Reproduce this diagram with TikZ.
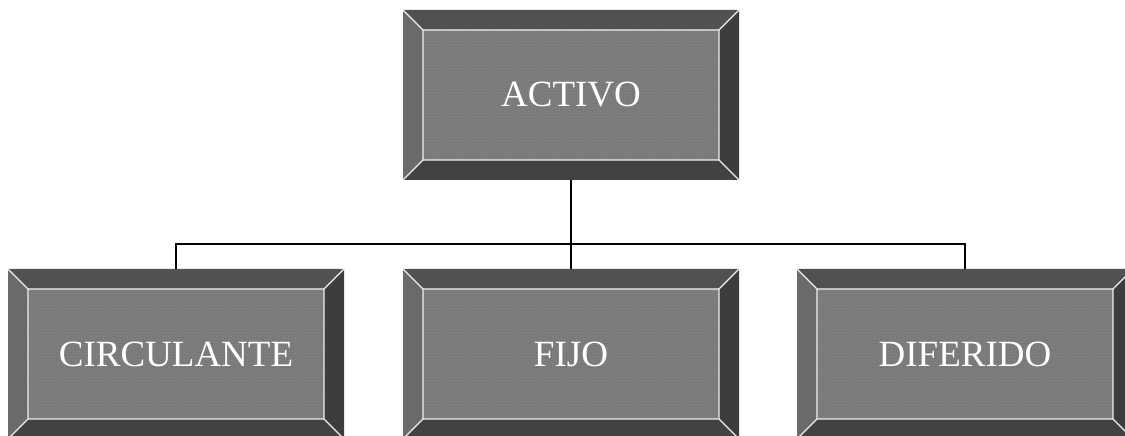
\documentclass[tikz,border=0pt]{standalone}
\usepackage{fontspec}
\setmainfont{Liberation Serif}
\usetikzlibrary{calc,patterns}
\definecolor{bevTop}{HTML}{515151}
\definecolor{bevLeft}{HTML}{6A6A6A}
\definecolor{bevRight}{HTML}{3D3D3D}
\definecolor{bevBottom}{HTML}{424242}
\definecolor{faceFill}{HTML}{787878}
\definecolor{faceDots}{HTML}{838383}
\definecolor{edgeLine}{HTML}{F0F0F0}
% small checker texture for the box faces
\pgfdeclarepatternformonly{finechecker}{\pgfpointorigin}{\pgfqpoint{3pt}{3pt}}{\pgfqpoint{3pt}{3pt}}{%
  \pgfpathrectangle{\pgfpointorigin}{\pgfqpoint{1.5pt}{1.5pt}}%
  \pgfpathrectangle{\pgfqpoint{1.5pt}{1.5pt}}{\pgfqpoint{1.5pt}{1.5pt}}%
  \pgfusepath{fill}}
\tikzset{
  bevelbox/.style={
    rectangle, minimum width=336pt, minimum height=170pt, inner sep=0pt,
    text=white, font=\fontsize{37}{44}\selectfont,
    path picture={
      \coordinate (NW) at (path picture bounding box.north west);
      \coordinate (NE) at (path picture bounding box.north east);
      \coordinate (SW) at (path picture bounding box.south west);
      \coordinate (SE) at (path picture bounding box.south east);
      \coordinate (nw) at ($(NW)+(20pt,-20pt)$);
      \coordinate (ne) at ($(NE)+(-20pt,-20pt)$);
      \coordinate (sw) at ($(SW)+(20pt,20pt)$);
      \coordinate (se) at ($(SE)+(-20pt,20pt)$);
      \fill[bevTop] (NW) -- (NE) -- (ne) -- (nw) -- cycle;
      \fill[bevLeft] (NW) -- (nw) -- (sw) -- (SW) -- cycle;
      \fill[bevRight] (NE) -- (SE) -- (se) -- (ne) -- cycle;
      \fill[bevBottom] (SW) -- (sw) -- (se) -- (SE) -- cycle;
      \fill[faceFill] (nw) rectangle (se);
      \fill[pattern=finechecker, pattern color=faceDots] (nw) rectangle (se);
      \draw[edgeLine, line width=1.2pt] (nw) rectangle (se)
        (NW) -- (nw) (NE) -- (ne) (SW) -- (sw) (SE) -- (se);
    }
  },
  link/.style={draw=black, line width=2.5pt}
}
\begin{document}
\begin{tikzpicture}[x=1pt,y=1pt]
  \useasboundingbox (0,0) rectangle (1125,436);
  \node[bevelbox] (activo) at (571,341) {ACTIVO};
  \node[bevelbox] (circ) at (176,82) {CIRCULANTE};
  \node[bevelbox] (fijo) at (571,82) {FIJO};
  \node[bevelbox] (dif) at (965,82) {DIFERIDO};
  \coordinate (bus) at (571,192);
  \draw[link] (activo.south) -- (fijo.north);
  \draw[link] (circ.north) -- (circ.north |- bus) -- (dif.north |- bus) -- (dif.north);
\end{tikzpicture}
\end{document}
